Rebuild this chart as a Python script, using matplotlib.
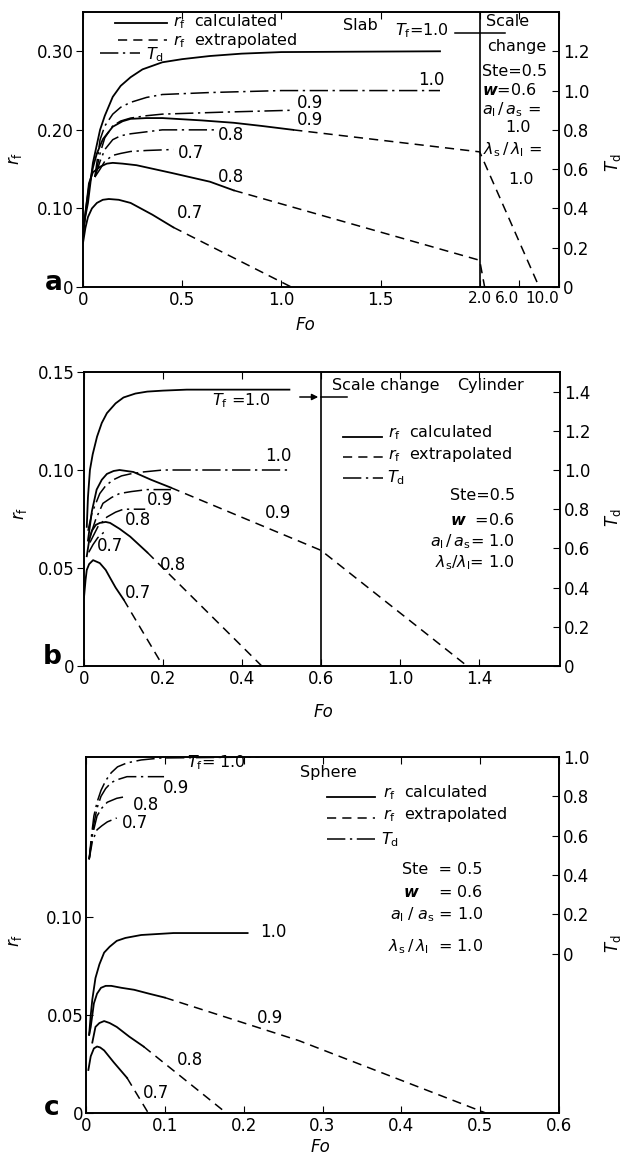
import numpy as np
import matplotlib as mpl
mpl.use('Agg')
import matplotlib.pyplot as plt
from matplotlib.lines import Line2D

# ---- slab (a): r_f calculated / extrapolated, T_d ----
slab_rf10_fo = [0.0, 0.012, 0.025, 0.05, 0.086, 0.11, 0.15, 0.19, 0.24, 0.30, 0.40, 0.50, 0.64, 0.8, 1.0, 1.8]
slab_rf10 = [0.07, 0.09, 0.107, 0.158, 0.200, 0.218, 0.242, 0.256, 0.267, 0.277, 0.286, 0.290, 0.294, 0.297, 0.299, 0.300]
slab_rf09_fo = [0.0, 0.015, 0.03, 0.05, 0.07, 0.1, 0.15, 0.2, 0.24, 0.32, 0.40, 0.6, 0.76, 0.9, 1.06]
slab_rf09 = [0.07, 0.10, 0.127, 0.152, 0.170, 0.188, 0.204, 0.211, 0.214, 0.215, 0.215, 0.212, 0.209, 0.205, 0.200]
slab_rf09x_fo = [1.06, 2.0, 8.0]
slab_rf09x = [0.200, 0.172, 0.0]
slab_rf08_fo = [0.0, 0.015, 0.03, 0.05, 0.086, 0.12, 0.15, 0.2, 0.27, 0.45, 0.64, 0.76]
slab_rf08 = [0.065, 0.10, 0.132, 0.146, 0.153, 0.157, 0.158, 0.157, 0.155, 0.145, 0.134, 0.123]
slab_rf08x_fo = [0.76, 2.0, 2.5]
slab_rf08x = [0.123, 0.034, 0.0]
slab_rf07_fo = [0.0, 0.012, 0.025, 0.045, 0.07, 0.1, 0.13, 0.18, 0.24, 0.35, 0.455]
slab_rf07 = [0.056, 0.075, 0.089, 0.100, 0.107, 0.111, 0.112, 0.111, 0.107, 0.092, 0.076]
slab_rf07x_fo = [0.455, 1.05]
slab_rf07x = [0.076, 0.0]
slab_td10_fo = [0.06, 0.086, 0.11, 0.15, 0.19, 0.24, 0.32, 0.40, 0.64, 1.0, 1.8]
slab_td10 = [0.56, 0.75, 0.82, 0.88, 0.915, 0.94, 0.965, 0.98, 0.99, 1.0, 1.0]
slab_td09_fo = [0.06, 0.086, 0.11, 0.15, 0.19, 0.24, 0.32, 0.40, 0.7, 1.06]
slab_td09 = [0.56, 0.68, 0.76, 0.82, 0.845, 0.86, 0.872, 0.88, 0.89, 0.90]
slab_td08_fo = [0.06, 0.086, 0.11, 0.15, 0.19, 0.24, 0.32, 0.40, 0.68]
slab_td08 = [0.56, 0.64, 0.70, 0.75, 0.77, 0.78, 0.79, 0.80, 0.80]
slab_td07_fo = [0.06, 0.086, 0.11, 0.15, 0.19, 0.24, 0.32, 0.455]
slab_td07 = [0.56, 0.60, 0.64, 0.67, 0.68, 0.69, 0.695, 0.70]

# ---- cylinder (b) ----
cyl_rf10_fo = [0.007, 0.01, 0.015, 0.022, 0.033, 0.045, 0.058, 0.08, 0.10, 0.13, 0.16, 0.2, 0.26, 0.52]
cyl_rf10 = [0.071, 0.086, 0.100, 0.108, 0.117, 0.124, 0.129, 0.134, 0.137, 0.139, 0.140, 0.1405, 0.141, 0.141]
cyl_rf09_fo = [0.01, 0.02, 0.032, 0.045, 0.058, 0.075, 0.09, 0.125, 0.17, 0.22]
cyl_rf09 = [0.064, 0.079, 0.090, 0.095, 0.098, 0.0995, 0.100, 0.099, 0.095, 0.091]
cyl_rf09x_fo = [0.22, 0.6, 1.34]
cyl_rf09x = [0.091, 0.059, 0.0]
cyl_rf08_fo = [0.007, 0.013, 0.02, 0.03, 0.04, 0.055, 0.066, 0.09, 0.117, 0.16]
cyl_rf08 = [0.056, 0.064, 0.069, 0.072, 0.073, 0.0735, 0.073, 0.070, 0.066, 0.058]
cyl_rf08x_fo = [0.16, 0.45]
cyl_rf08x = [0.058, 0.0]
cyl_rf07_fo = [0.0, 0.004, 0.007, 0.013, 0.023, 0.04, 0.055, 0.066, 0.08, 0.10]
cyl_rf07 = [0.035, 0.044, 0.049, 0.052, 0.054, 0.0525, 0.049, 0.045, 0.040, 0.034]
cyl_rf07x_fo = [0.10, 0.20]
cyl_rf07x = [0.034, 0.0]
cyl_td10_fo = [0.01, 0.02, 0.04, 0.055, 0.074, 0.095, 0.117, 0.15, 0.2, 0.52]
cyl_td10 = [0.69, 0.78, 0.88, 0.92, 0.95, 0.97, 0.98, 0.99, 1.0, 1.0]
cyl_td09_fo = [0.015, 0.03, 0.048, 0.07, 0.09, 0.12, 0.16, 0.22]
cyl_td09 = [0.66, 0.75, 0.83, 0.86, 0.88, 0.89, 0.90, 0.90]
cyl_td08_fo = [0.015, 0.035, 0.058, 0.08, 0.10, 0.155]
cyl_td08 = [0.63, 0.71, 0.76, 0.785, 0.80, 0.80]
cyl_td07_fo = [0.012, 0.023, 0.035, 0.049, 0.06]
cyl_td07 = [0.58, 0.62, 0.655, 0.68, 0.69]

# ---- sphere (c) ----
sph_rf10_fo = [0.004, 0.006, 0.008, 0.012, 0.017, 0.023, 0.03, 0.039, 0.05, 0.07, 0.111, 0.205]
sph_rf10 = [0.040, 0.050, 0.058, 0.069, 0.076, 0.082, 0.085, 0.088, 0.0895, 0.091, 0.092, 0.092]
sph_rf09_fo = [0.004, 0.006, 0.01, 0.014, 0.019, 0.025, 0.032, 0.045, 0.061, 0.08, 0.10]
sph_rf09 = [0.040, 0.044, 0.056, 0.061, 0.064, 0.065, 0.065, 0.064, 0.063, 0.061, 0.059]
sph_rf09x_fo = [0.10, 0.27, 0.507]
sph_rf09x = [0.059, 0.037, 0.0]
sph_rf08_fo = [0.008, 0.012, 0.017, 0.023, 0.03, 0.039, 0.055, 0.073]
sph_rf08 = [0.036, 0.044, 0.046, 0.047, 0.046, 0.044, 0.039, 0.034]
sph_rf08x_fo = [0.073, 0.178]
sph_rf08x = [0.034, 0.0]
sph_rf07_fo = [0.003, 0.006, 0.01, 0.014, 0.018, 0.023, 0.035, 0.052]
sph_rf07 = [0.022, 0.029, 0.033, 0.034, 0.0335, 0.032, 0.026, 0.018]
sph_rf07x_fo = [0.052, 0.079]
sph_rf07x = [0.018, 0.0]
sph_td10_fo = [0.004, 0.007, 0.01, 0.014, 0.019, 0.025, 0.032, 0.04, 0.052, 0.07, 0.095, 0.22]
sph_td10 = [0.48, 0.60, 0.70, 0.77, 0.83, 0.88, 0.92, 0.95, 0.97, 0.985, 0.995, 1.0]
sph_td09_fo = [0.004, 0.007, 0.01, 0.014, 0.019, 0.025, 0.032, 0.04, 0.052, 0.07, 0.099]
sph_td09 = [0.48, 0.58, 0.66, 0.74, 0.80, 0.84, 0.87, 0.885, 0.90, 0.90, 0.90]
sph_td08_fo = [0.004, 0.008, 0.014, 0.02, 0.027, 0.039, 0.052]
sph_td08 = [0.48, 0.60, 0.70, 0.74, 0.77, 0.79, 0.80]
sph_td07_fo = [0.004, 0.008, 0.014, 0.02, 0.027, 0.039]
sph_td07 = [0.48, 0.57, 0.63, 0.65, 0.67, 0.69]

W, H = 622, 1162
plt.rcParams['font.family'] = 'DejaVu Sans'
plt.rcParams['mathtext.fontset'] = 'dejavusans'

SOLID = dict(color='black', lw=1.3, ls='-')
DASH = dict(color='black', lw=1.1, ls=(0, (6, 4)))
DASHDOT = dict(color='black', lw=1.1, ls=(0, (12, 3, 1.5, 3)))
TS = 11.5  # annotation text size

fig = plt.figure(figsize=(W / 100, H / 100), dpi=100)


def fx(x):
    return x / W


def fy(y):
    return 1 - y / H


def new_axes(left, top, right, bottom):
    return fig.add_axes([fx(left), fy(bottom), fx(right) - fx(left), fy(top) - fy(bottom)])


def txt(x, y, s, ha='left', size=TS, **kw):
    fig.text(fx(x), fy(y), s, ha=ha, va='center', fontsize=size, **kw)


def hline(x0, x1, y, style):
    fig.add_artist(Line2D([fx(x0), fx(x1)], [fy(y), fy(y)], transform=fig.transFigure, **style))


def broken(at, k):
    # linear up to `at`, compressed by factor k beyond it
    def fwd(x):
        x = np.asarray(x, float)
        return np.where(x <= at, x, at + (x - at) * k)

    def inv(u):
        u = np.asarray(u, float)
        return np.where(u <= at, u, at + (u - at) / k)
    return fwd, inv


def style_axes(ax, ax2, left_dir):
    ax.tick_params(axis='x', direction='in', top=True, length=5, labelsize=12, pad=3)
    ax.tick_params(axis='y', direction=left_dir, length=5, labelsize=12, pad=2)
    ax2.tick_params(axis='y', direction='in', length=5, labelsize=12, pad=3)
    for a in (ax, ax2):
        for sp in a.spines.values():
            sp.set_linewidth(1.2)


# ================= (a) slab =================
ax = new_axes(83, 12, 559, 287)
ax.set_xscale('function', functions=broken(2.0, 0.05))
ax.set_xlim(0, 10)
ax.set_ylim(0, 0.35)
ax2 = ax.twinx()
ax2.set_ylim(0, 1.4)

ax.plot(slab_rf10_fo, slab_rf10, **SOLID)
ax.plot(slab_rf09_fo, slab_rf09, **SOLID)
ax.plot(slab_rf09x_fo, slab_rf09x, **DASH)
ax.plot(slab_rf08_fo, slab_rf08, **SOLID)
ax.plot(slab_rf08x_fo, slab_rf08x, **DASH)
ax.plot(slab_rf07_fo, slab_rf07, **SOLID)
ax.plot(slab_rf07x_fo, slab_rf07x, **DASH)
ax2.plot(slab_td10_fo, slab_td10, **DASHDOT)
ax2.plot(slab_td09_fo, slab_td09, **DASHDOT)
ax2.plot(slab_td08_fo, slab_td08, **DASHDOT)
ax2.plot(slab_td07_fo, slab_td07, **DASHDOT)
ax.axvline(2.0, color='black', lw=1.2)

ax.set_xticks([0, 0.5, 1.0, 1.5, 2.0, 6.0, 10.0])
style_axes(ax, ax2, 'out')
xl = ax.set_xticklabels(['0', '0.5', '1.0', '1.5', '2.0', '6.0', '10.0'])
# squeeze the labels past the scale change
for lab in xl[4:]:
    lab.set_fontsize(11)
xl[5].set_horizontalalignment('right')
xl[6].set_horizontalalignment('right')
ax.set_yticks([0, 0.10, 0.20, 0.30])
ax.set_yticklabels(['0', '0.10', '0.20', '0.30'])
ax2.set_yticks([0, 0.2, 0.4, 0.6, 0.8, 1.0, 1.2])
ax2.set_yticklabels(['0', '0.2', '0.4', '0.6', '0.8', '1.0', '1.2'])

hline(115, 167, 23, SOLID)
txt(173, 22, r'$r_\mathrm{f}$  calculated')
hline(118, 167, 40, DASH)
txt(173, 40, r'$r_\mathrm{f}$  extrapolated')
hline(100, 140, 53, DASHDOT)
txt(146, 55, r'$T_\mathrm{d}$')
txt(343, 25, 'Slab')
txt(395, 31, r'$T_\mathrm{f}$=1.0')
hline(455, 505, 33, dict(color='black', lw=1.1))
txt(486, 22, 'Scale')
txt(487, 46, 'change')
txt(482, 72, 'Ste=0.5')
txt(482, 90, r'$\boldsymbol{w}$=0.6')
txt(482, 110, r'$a_\mathrm{l}\,/\,a_\mathrm{s}$ =')
txt(505, 127, '1.0')
txt(483, 150, r'$\lambda_\mathrm{s}\,/\,\lambda_\mathrm{l}$ =')
txt(508, 180, '1.0')
for x, y, s in [(418, 80, '1.0'), (297, 103, '0.9'), (297, 120, '0.9'), (218, 135, '0.8'),
                (178, 153, '0.7'), (218, 177, '0.8'), (177, 213, '0.7')]:
    txt(x, y, s, size=12)
txt(54, 283, 'a', ha='center', size=19, fontweight='bold')
txt(15, 158, r'$r_\mathrm{f}$', ha='center', size=12, rotation=90)
txt(613, 163, r'$T_\mathrm{d}$', ha='center', size=12, rotation=90)
txt(305, 325, 'Fo', ha='center', size=12, style='italic')

# ================= (b) cylinder =================
ax = new_axes(84, 372, 560, 666)
ax.set_xscale('function', functions=broken(0.6, 0.5))
ax.set_xlim(0, 1.81)
ax.set_ylim(0, 0.15)
ax2 = ax.twinx()
ax2.set_ylim(0, 1.5)

ax.plot(cyl_rf10_fo, cyl_rf10, **SOLID)
ax.plot(cyl_rf09_fo, cyl_rf09, **SOLID)
ax.plot(cyl_rf09x_fo, cyl_rf09x, **DASH)
ax.plot(cyl_rf08_fo, cyl_rf08, **SOLID)
ax.plot(cyl_rf08x_fo, cyl_rf08x, **DASH)
ax.plot(cyl_rf07_fo, cyl_rf07, **SOLID)
ax.plot(cyl_rf07x_fo, cyl_rf07x, **DASH)
ax2.plot(cyl_td10_fo, cyl_td10, **DASHDOT)
ax2.plot(cyl_td09_fo, cyl_td09, **DASHDOT)
ax2.plot(cyl_td08_fo, cyl_td08, **DASHDOT)
ax2.plot(cyl_td07_fo, cyl_td07, **DASHDOT)
ax.axvline(0.6, color='black', lw=1.2)

ax.set_xticks([0, 0.2, 0.4, 0.6, 1.0, 1.4])
ax.set_xticklabels(['0', '0.2', '0.4', '0.6', '1.0', '1.4'])
ax.set_yticks([0, 0.05, 0.10, 0.15])
ax.set_yticklabels(['0', '0.05', '0.10', '0.15'])
ax2.set_yticks([0, 0.2, 0.4, 0.6, 0.8, 1.0, 1.2, 1.4])
ax2.set_yticklabels(['0', '0.2', '0.4', '0.6', '0.8', '1.0', '1.2', '1.4'])
style_axes(ax, ax2, 'out')

txt(332, 386, 'Scale change')
txt(457, 386, 'Cylinder')
txt(212, 401, r'$T_\mathrm{f}$ =1.0')
fig.add_artist(mpl.patches.FancyArrowPatch((fx(297), fy(397)), (fx(321), fy(397)),
                                           transform=fig.transFigure, arrowstyle='-|>',
                                           mutation_scale=9, color='black', lw=1.1))
hline(321, 347, 397, dict(color='black', lw=1.1))
hline(343, 382, 437, SOLID)
txt(388, 433, r'$r_\mathrm{f}$  calculated')
hline(343, 383, 457, DASH)
txt(388, 455, r'$r_\mathrm{f}$  extrapolated')
hline(343, 383, 478, DASHDOT)
txt(387, 478, r'$T_\mathrm{d}$')
txt(515, 495, 'Ste=0.5', ha='right')
txt(515, 520, r'$\boldsymbol{w}$  =0.6', ha='right')
txt(515, 542, r'$a_\mathrm{l}\,/\,a_\mathrm{s}$= 1.0', ha='right')
txt(515, 563, r'$\lambda_\mathrm{s}/\lambda_\mathrm{l}$= 1.0', ha='right')
for x, y, s in [(265, 456, '1.0'), (265, 513, '0.9'), (147, 500, '0.9'), (125, 520, '0.8'),
                (160, 565, '0.8'), (97, 546, '0.7'), (125, 593, '0.7')]:
    txt(x, y, s, size=12)
txt(52, 657, 'b', ha='center', size=19, fontweight='bold')
txt(20, 513, r'$r_\mathrm{f}$', ha='center', size=12, rotation=90)
txt(613, 518, r'$T_\mathrm{d}$', ha='center', size=12, rotation=90)
txt(323, 712, 'Fo', ha='center', size=12, style='italic')

# ================= (c) sphere =================
ax = new_axes(86, 757, 559, 1113)
ax.set_xlim(0, 0.6)
ax.set_ylim(0, 0.182)
ax2 = ax.twinx()
ax2.set_ylim(-0.81, 1.0)

ax.plot(sph_rf10_fo, sph_rf10, **SOLID)
ax.plot(sph_rf09_fo, sph_rf09, **SOLID)
ax.plot(sph_rf09x_fo, sph_rf09x, **DASH)
ax.plot(sph_rf08_fo, sph_rf08, **SOLID)
ax.plot(sph_rf08x_fo, sph_rf08x, **DASH)
ax.plot(sph_rf07_fo, sph_rf07, **SOLID)
ax.plot(sph_rf07x_fo, sph_rf07x, **DASH)
ax2.plot(sph_td10_fo, sph_td10, **DASHDOT)
ax2.plot(sph_td09_fo, sph_td09, **DASHDOT)
ax2.plot(sph_td08_fo, sph_td08, **DASHDOT)
ax2.plot(sph_td07_fo, sph_td07, **DASHDOT)

ax.set_xticks([0, 0.1, 0.2, 0.3, 0.4, 0.5, 0.6])
ax.set_xticklabels(['0', '0.1', '0.2', '0.3', '0.4', '0.5', '0.6'])
ax.set_yticks([0, 0.05, 0.10])
ax.set_yticklabels(['0', '0.05', '0.10'])
ax2.set_yticks([0, 0.2, 0.4, 0.6, 0.8, 1.0])
ax2.set_yticklabels(['0', '0.2', '0.4', '0.6', '0.8', '1.0'])
style_axes(ax, ax2, 'in')

txt(300, 772, 'Sphere')
hline(327, 375, 797, SOLID)
txt(383, 793, r'$r_\mathrm{f}$  calculated')
hline(327, 375, 818, DASH)
txt(383, 815, r'$r_\mathrm{f}$  extrapolated')
hline(327, 375, 839, DASHDOT)
txt(381, 840, r'$T_\mathrm{d}$')
txt(483, 870, 'Ste  = 0.5', ha='right')
txt(483, 892, r'$\boldsymbol{w}$    = 0.6', ha='right')
txt(483, 915, r'$a_\mathrm{l}\;/\;a_\mathrm{s}$ = 1.0', ha='right')
txt(483, 947, r'$\lambda_\mathrm{s}\,/\,\lambda_\mathrm{l}$  = 1.0', ha='right')
txt(187, 763, r'$T_\mathrm{f}$= 1.0')
for x, y, s in [(163, 788, '0.9'), (133, 805, '0.8'), (122, 823, '0.7'), (260, 932, '1.0'),
                (257, 1018, '0.9'), (177, 1060, '0.8'), (143, 1093, '0.7')]:
    txt(x, y, s, size=12)
txt(52, 1108, 'c', ha='center', size=19, fontweight='bold')
txt(15, 940, r'$r_\mathrm{f}$', ha='center', size=12, rotation=90)
txt(613, 944, r'$T_\mathrm{d}$', ha='center', size=12, rotation=90)
txt(320, 1147, 'Fo', ha='center', size=12, style='italic')

plt.savefig('out.png', dpi=100)
